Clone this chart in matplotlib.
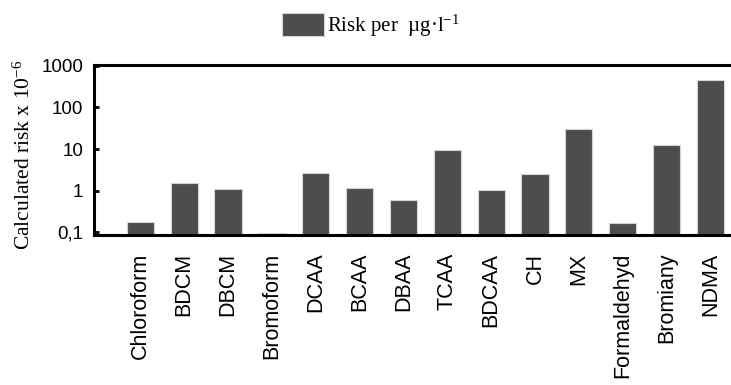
import numpy as np
import matplotlib
matplotlib.use("Agg")
import matplotlib.pyplot as plt

# risk per ug/l for each disinfection by-product (x 10^-6)
compounds = ["Chloroform", "BDCM", "DBCM", "Bromoform", "DCAA", "BCAA", "DBAA",
             "TCAA", "BDCAA", "CH", "MX", "Formaldehyd", "Bromiany", "NDMA"]
risk = [0.18, 1.5, 1.08, 0.095, 2.6, 1.14, 0.61,
        9.6, 1.06, 2.5, 29.7, 0.17, 12.5, 444]
yticks = [0.1, 1, 10, 100, 1000]
yticklabels = ["0,1", "1", "10", "100", "1000"]

plt.rcParams["font.family"] = "Liberation Sans"
plt.rcParams["mathtext.fontset"] = "custom"
plt.rcParams["mathtext.rm"] = "Liberation Serif"
plt.rcParams["mathtext.it"] = "Liberation Serif:italic"

fig = plt.figure(figsize=(7.31, 3.85), dpi=100)
W, H = 731.0, 385.0
# axes runs off the right edge of the figure
ax = fig.add_axes([94.3 / W, (H - 234.5) / H, 660 / W, (234.5 - 65.2) / H])

x = np.arange(len(compounds))
bars = ax.bar(x, risk, width=0.62, color="#4d4d4d", edgecolor="#d4d4d4",
              linewidth=0.8, label=r"Risk per  µg·l$^{\mathregular{-1}}$")

ax.set_yscale("log")
ax.set_ylim(0.089, 1030)
ax.set_xlim(-1.05, 14.0)
ax.set_yticks(yticks)
ax.set_yticklabels(yticklabels)
ax.yaxis.set_minor_locator(matplotlib.ticker.NullLocator())
ax.set_xticks(x)
ax.set_xticklabels(compounds, rotation=90, fontsize=15.5)

ax.tick_params(axis="y", direction="in", length=3.5, width=2, pad=8, labelsize=13.5)
ax.tick_params(axis="x", length=0, pad=13)
for side in ["left", "bottom", "top"]:
    ax.spines[side].set_linewidth(2.2)
ax.spines["right"].set_visible(False)

ax.set_ylabel(r"Calculated risk x 10$^{\mathregular{-6}}$", family="Liberation Serif",
              fontsize=15.5)
ax.yaxis.set_label_coords(35 / W, (H - 155) / H, transform=fig.transFigure)

fig.legend(handles=[bars], loc="upper center", bbox_to_anchor=(0.507, 0.995),
           frameon=False, borderpad=0, handlelength=2.0, handleheight=1.35,
           handletextpad=0.15, prop={"family": "Liberation Serif", "size": 15})

fig.savefig("out.png", dpi=100)
